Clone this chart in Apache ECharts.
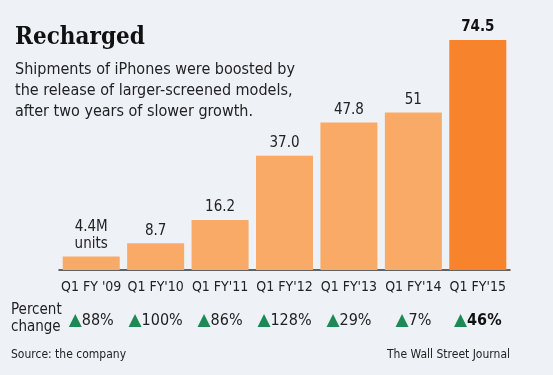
<!DOCTYPE html>
<html>
<head>
<meta charset="utf-8">
<script src="https://cdn.jsdelivr.net/npm/echarts@6/dist/echarts.min.js"></script>
<style>
  html, body { margin: 0; padding: 0; background: #eef2f7; }
  #chart { width: 553px; height: 375px; }
</style>
</head>
<body>
<div id="chart"></div>
<script>
const categories = ["Q1 FY '09", "Q1 FY'10", "Q1 FY'11", "Q1 FY'12", "Q1 FY'13", "Q1 FY'14", "Q1 FY'15"];
const shipments = [4.4, 8.7, 16.2, 37.0, 47.8, 51, 74.5];
const valueLabels = ['4.4M\nunits', '8.7', '16.2', '37.0', '47.8', '51', '74.5'];
const pctChange = ['88%', '100%', '86%', '128%', '29%', '7%', '46%'];

const narrow = '"DejaVu Sans Condensed", sans-serif';
const last = shipments.length - 1;

const chart = echarts.init(document.getElementById('chart'));

const option = {
  backgroundColor: '#eef2f7',
  animation: false,
  title: {
    text: 'Recharged',
    subtext: 'Shipments of iPhones were boosted by\nthe release of larger-screened models,\nafter two years of slower growth.',
    left: 10,
    top: 21,
    itemGap: 9,
    textStyle: {
      fontFamily: '"DejaVu Serif Condensed", "DejaVu Serif", serif', fontWeight: 'bold', fontSize: 24, color: '#111'
    },
    subtextStyle: { fontFamily: narrow, fontSize: 16, color: '#222', lineHeight: 21 }
  },
  grid: { left: 59, right: 43, top: 40, bottom: 105 },
  xAxis: [
    {
      type: 'category',
      data: categories,
      axisLine: { lineStyle: { color: '#333', width: 1.5 } },
      axisTick: { alignWithLabel: true, length: 5, lineStyle: { color: '#333' } },
      axisLabel: { interval: 0, fontFamily: narrow, fontSize: 14, color: '#222', margin: 10 }
    },
    {
      type: 'category',
      position: 'bottom',
      offset: 34,
      data: pctChange,
      axisLine: { show: false },
      axisTick: { show: false },
      axisLabel: {
        interval: 0,
        margin: 8,
        formatter: (v, i) => '{tri|▲}{' + (i === last ? 'b' : 'n') + '|' + v + '}',
        rich: {
          tri: { fontFamily: 'DejaVu Sans', fontSize: 17, color: '#1b8a55' },
          n: { fontFamily: narrow, fontSize: 16, color: '#222' },
          b: { fontFamily: narrow, fontSize: 16, color: '#111', fontWeight: 'bold' }
        }
      }
    }
  ],
  yAxis: { type: 'value', min: 0, max: 74.5, show: false },
  series: [
    {
      type: 'bar',
      xAxisIndex: 0,
      barWidth: 57,
      data: shipments.map((v, i) => ({
        value: v,
        itemStyle: { color: i === last ? '#f7832d' : '#f9aa66' },
        label: i === last ? { fontWeight: 'bold', color: '#111' } : undefined
      })),
      label: {
        show: true,
        position: 'top',
        distance: 4,
        fontFamily: narrow,
        fontSize: 15,
        lineHeight: 17,
        color: '#222',
        formatter: p => valueLabels[p.dataIndex]
      }
    }
  ],
  graphic: [
    {
      type: 'text', left: 11, top: 302,
      style: { text: 'Percent\nchange', fontFamily: narrow, fontSize: 15, lineHeight: 17, fill: '#222' }
    },
    {
      type: 'text', left: 11, top: 349,
      style: { text: 'Source: the company', fontFamily: narrow, fontSize: 12, fill: '#222' }
    },
    {
      type: 'text', right: 43, top: 349,
      style: { text: 'The Wall Street Journal', fontFamily: narrow, fontSize: 12, fill: '#222' }
    }
  ]
};

chart.setOption(option);
window.addEventListener('resize', () => chart.resize());
</script>
</body>
</html>
